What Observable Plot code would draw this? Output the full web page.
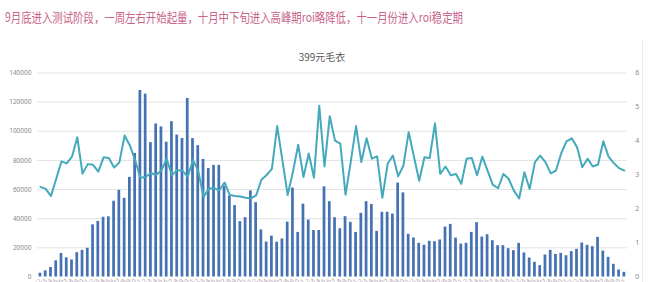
<!DOCTYPE html>
<html><head><meta charset="utf-8">
<script src="https://cdn.jsdelivr.net/npm/d3@7"></script>
<script src="https://cdn.jsdelivr.net/npm/@observablehq/plot@0.6"></script>
<style>
html,body{margin:0;padding:0;background:#fff;width:650px;height:282px;overflow:hidden;position:relative;font-family:"Noto Sans CJK SC","Noto Sans",sans-serif}
#note{position:absolute;left:5px;top:9px;font-size:13px;color:#c8648a;white-space:nowrap;transform-origin:0 0;line-height:16px}
#title{position:absolute;left:272px;width:100px;top:51px;text-align:center;font-size:10px;line-height:12px;color:#595959}
#chart{position:absolute;left:0;top:40px}
#edge{position:absolute;left:642px;top:40px;width:1px;height:242px;background:#ececec}
</style></head>
<body>
<div id="note">9月底进入测试阶段，一周左右开始起量，十月中下旬进入高峰期roi略降低，十一月份进入roi稳定期</div>
<div id="title">399元毛衣</div>
<div id="edge"></div>
<div id="chart"></div>
<script>
// categories: one per day, starting late September
const startDate = new Date(Date.UTC(2017, 8, 22));
const days = d3.utcDay.range(startDate, d3.utcDay.offset(startDate, 112)).map(d => `${d.getUTCMonth()+1}/${d.getUTCDate()}`);

// daily spend / volume (left axis)
const volume = [
  2600, 4200, 6500, 11100, 16100, 13200, 11700, 16700, 18300, 19700,
  35800, 38200, 41000, 41300, 52000, 59500, 54000, 68400, 84800, 128000,
  125500, 92200, 105000, 103000, 92500, 106600, 97400, 95000, 122500, 95000,
  90100, 80700, 74400, 76600, 76600, 62200, 55500, 49000, 38000, 40700,
  59100, 51000, 32300, 24000, 28100, 23900, 26100, 37700, 61000, 30600,
  50000, 39100, 31900, 31900, 61900, 51700, 40700, 33100, 41400, 37500,
  30600, 43700, 51700, 49800, 31300, 44400, 44400, 43200, 64500, 57700,
  29300, 26800, 23100, 21800, 24500, 24200, 25400, 34300, 36100, 26700,
  22600, 23100, 30600, 37300, 27400, 29000, 24900, 21500, 21500, 19400,
  18100, 23100, 16500, 13000, 10100, 7800, 15100, 18300, 15500, 16200,
  14600, 17400, 19000, 23300, 21700, 20800, 27200, 17800, 13500, 8700,
  4800, 3200
];

// daily ROI (right axis)
const roi = [
  2.65, 2.59, 2.38, 2.89, 3.40, 3.34, 3.54, 4.11, 3.04, 3.32,
  3.30, 3.10, 3.52, 3.50, 3.22, 3.37, 4.16, 3.87, 3.43, 2.92,
  2.94, 3.06, 3.00, 3.14, 3.47, 2.99, 3.15, 3.12, 2.95, 3.44,
  3.12, 2.35, 2.60, 2.61, 2.55, 2.78, 2.41, 2.38, 2.37, 2.33,
  2.31, 2.40, 2.86, 3.00, 3.18, 4.44, 3.43, 2.41, 3.10, 3.89,
  2.94, 3.63, 2.92, 5.04, 3.25, 4.73, 4.01, 3.92, 2.42, 3.40,
  4.44, 3.38, 4.08, 3.48, 3.55, 2.33, 3.33, 3.57, 2.96, 3.28,
  4.26, 3.54, 2.83, 3.52, 3.50, 4.52, 3.03, 3.25, 2.99, 3.03,
  2.74, 3.48, 3.50, 2.99, 3.54, 3.13, 2.71, 2.61, 3.03, 2.89,
  2.54, 2.31, 3.08, 2.59, 3.38, 3.57, 3.38, 3.05, 3.13, 3.64,
  3.99, 4.08, 3.82, 3.23, 3.48, 3.25, 3.31, 3.99, 3.54, 3.35,
  3.20, 3.13
];

const leftTicks = [0, 20000, 40000, 60000, 80000, 100000, 120000, 140000];
const rightTicks = [0, 1, 2, 3, 4, 5, 6];

const k = 140000 / 6;
const rows = days.map((d, i) => ({day: d, volume: volume[i], roi: roi[i] * k}));

const chart = Plot.plot({
  width: 650,
  height: 260,
  marginTop: 32.5,
  marginBottom: 23.5,
  marginLeft: 37,
  marginRight: 23.2,
  style: {background: "transparent", overflow: "visible", fontFamily: "'Noto Sans', sans-serif"},
  x: {type: "band", domain: days, paddingInner: 0.48, paddingOuter: 0.3, round: false, axis: null},
  y: {domain: [0, 140000], axis: null},
  marks: [
    Plot.gridY(leftTicks.slice(1), {stroke: "#e3e3e3", strokeOpacity: 1}),
    Plot.barY(rows, {x: "day", y: "volume", fill: "#4672b3"}),
    Plot.line(rows, {x: "day", y: "roi", stroke: "#45a9bc", strokeWidth: 2, strokeLinejoin: "round"}),
    Plot.axisY({ticks: leftTicks, tickSize: 0, tickPadding: 6, fontSize: 6.5, color: "#8a8a8a", tickFormat: d => String(d), label: null}),
    Plot.axisY({anchor: "right", ticks: rightTicks.map(v => v * k), tickSize: 0, tickPadding: 8, fontSize: 7, color: "#8a8a8a", tickFormat: d => String(Math.round(d / k)), label: null}),
    Plot.axisX({ticks: days, tickSize: 0, tickPadding: 3, fontSize: 6, tickRotate: -45, color: "#b0a0b0", label: null})
  ]
});
document.getElementById("chart").appendChild(chart);

const note = document.getElementById("note");
const w = note.getBoundingClientRect().width;
note.style.transform = `scaleX(${458 / w})`;
</script>
</body></html>
